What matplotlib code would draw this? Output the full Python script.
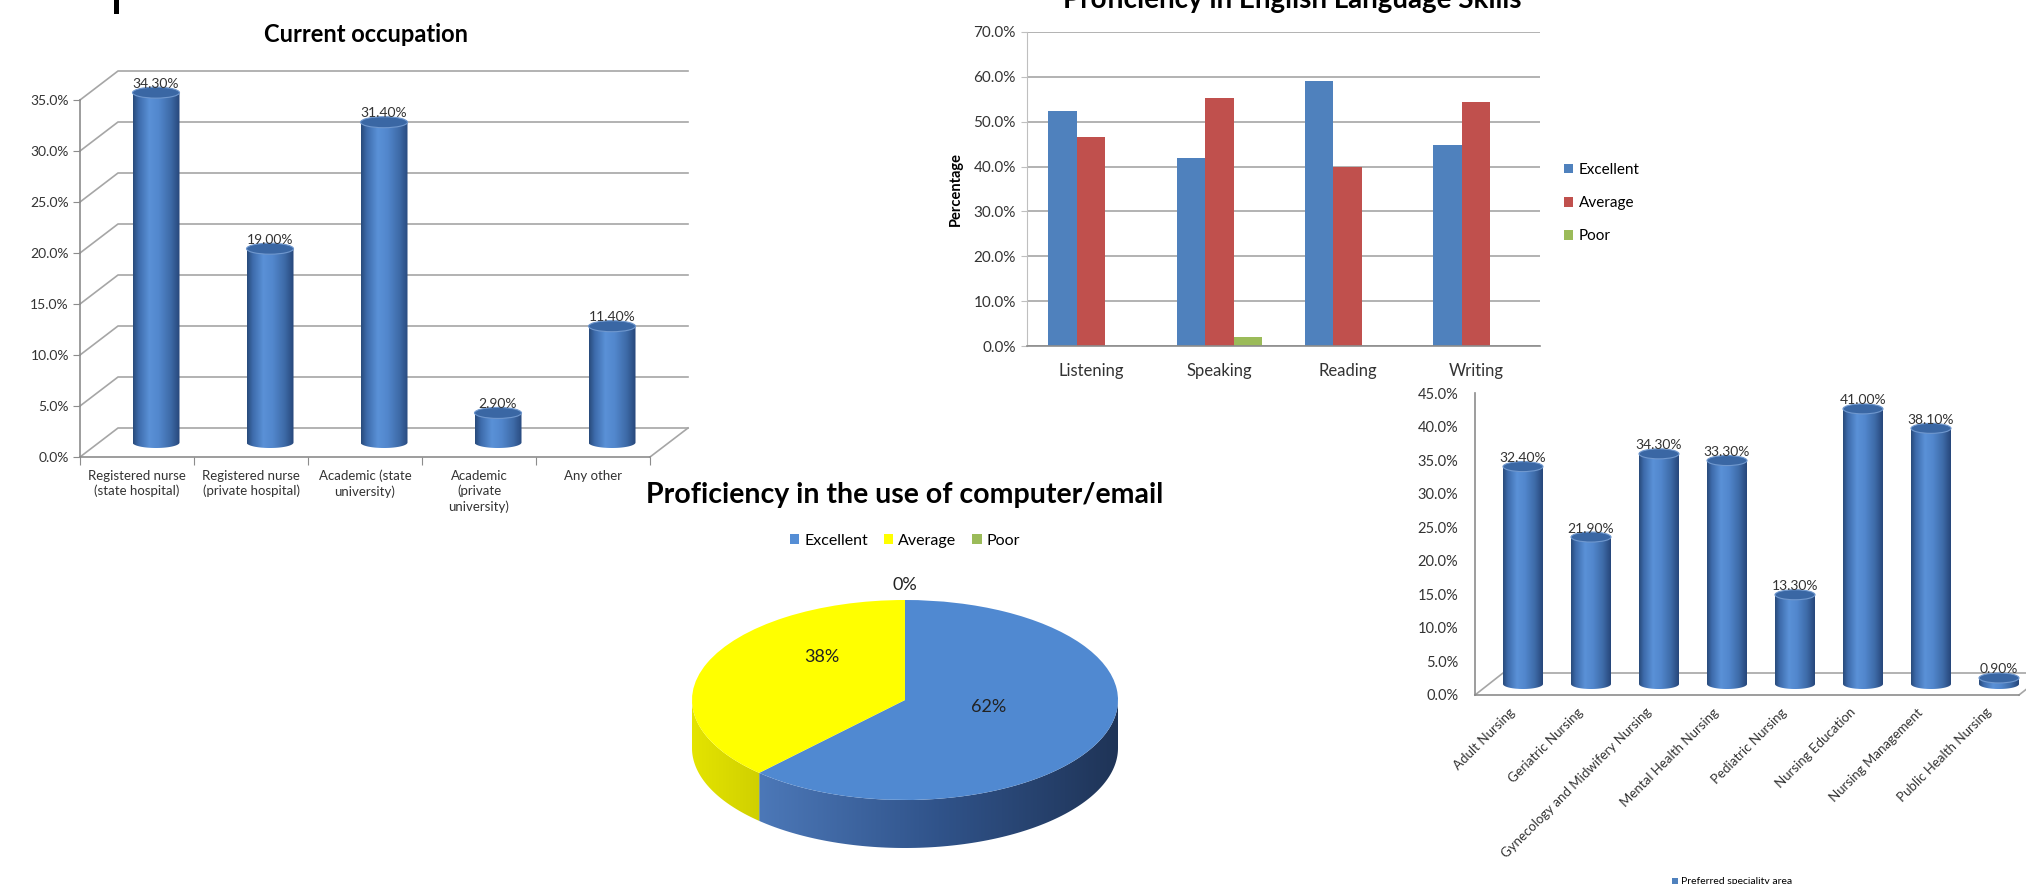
import numpy as np
import matplotlib
matplotlib.use('Agg')
import matplotlib.pyplot as plt
from matplotlib.patches import Ellipse, Polygon, Rectangle, Patch
from matplotlib.colors import LinearSegmentedColormap
from matplotlib.ticker import FuncFormatter

plt.rcParams['font.family'] = ['Lato', 'DejaVu Sans']

# ---------------- data ----------------
occ_categories = ['Registered nurse\n(state hospital)', 'Registered nurse\n(private hospital)',
                  'Academic (state\nuniversity)', 'Academic\n(private\nuniversity)', 'Any other']
occ_values = [34.3, 19.0, 31.4, 2.9, 11.4]
occ_ticks = [0, 5, 10, 15, 20, 25, 30, 35]

eng_skills = ['Listening', 'Speaking', 'Reading', 'Writing']
eng_excellent = [52.4, 41.9, 59.0, 44.8]
eng_average = [46.7, 55.2, 40.0, 54.3]
eng_poor = [0.0, 1.9, 0.0, 0.0]
eng_ticks = [0, 10, 20, 30, 40, 50, 60, 70]

comp_labels = ['Excellent', 'Average', 'Poor']
comp_values = [62, 38, 0]

spec_categories = ['Adult Nursing', 'Geriatric Nursing', 'Gynecology and Midwifery Nursing',
                   'Mental Health Nursing', 'Pediatric Nursing', 'Nursing Education',
                   'Nursing Management', 'Public Health Nursing']
spec_values = [32.4, 21.9, 34.3, 33.3, 13.3, 41.0, 38.1, 0.9]
spec_ticks = [0, 5, 10, 15, 20, 25, 30, 35, 40, 45]

# ---------------- helpers ----------------
W, H = 2026, 884
fig = plt.figure(figsize=(W / 100, H / 100), dpi=100)
fig.patch.set_facecolor('white')

TXT = '#333333'
GRID = '#A6A6A6'
AXC = '#8C8C8C'


def fx(px):
    return px / W


def fy(py):
    return 1 - py / H


def px_axes(left, top, right, bottom):
    ax = fig.add_axes([fx(left), fy(bottom), (right - left) / W, (bottom - top) / H])
    ax.set_facecolor('none')
    return ax


cyl_cmap = LinearSegmentedColormap.from_list('cyl', [
    (0.0, '#284A7A'), (0.12, '#3D6BAB'), (0.35, '#5A91D7'), (0.55, '#5287CD'),
    (0.8, '#3E6BA8'), (1.0, '#26467A')])
GRAD = np.linspace(0, 1, 256).reshape(1, -1)


def draw_cylinders(ax, xs, values, base, width, eh, fs):
    bars = ax.bar(xs, values, width, bottom=base, color='none', edgecolor='none', zorder=3)
    for bar, v in zip(bars, values):
        x0, w = bar.get_x(), bar.get_width()
        y0 = bar.get_y()
        y1 = y0 + bar.get_height()
        xc, a, b = x0 + w / 2, w / 2, eh / 2
        t = np.linspace(np.pi, 2 * np.pi, 80)
        arc = np.column_stack([xc + a * np.cos(t), y0 + b * np.sin(t)])
        verts = np.vstack([[x0, y1], arc, [x0 + w, y1]])
        poly = Polygon(verts, closed=True, fc='none', ec='none', zorder=3)
        ax.add_patch(poly)
        im = ax.imshow(GRAD, cmap=cyl_cmap, aspect='auto', extent=[x0, x0 + w, y0 - b, y1],
                       origin='lower', interpolation='bilinear', zorder=3)
        im.set_clip_path(poly)
        ax.add_patch(Ellipse((xc, y1), w, eh, fc='#3A67A4', ec='#7098CE', lw=0.8, zorder=4))
        ax.text(xc, y1 + b * 0.9, f'{v:.2f}%', ha='center', va='baseline', fontsize=fs,
                color=TXT, zorder=5)


pct1 = FuncFormatter(lambda v, p: f'{v:.1f}%')

# ---------------- top-left mark ----------------
fig.add_artist(Rectangle((fx(114), fy(14)), 5 / W, 14 / H, transform=fig.transFigure,
                         fc='black', ec='none'))

# ---------------- Chart 1: Current occupation ----------------
xpu1, ypu1 = 114.0, 10.2
ax1 = px_axes(80, 457 - ypu1 * 40, 80 + xpu1 * 5.6, 457)
dx1, dy1 = 38 / xpu1, 29 / ypu1
n1 = len(occ_values)
for lv in occ_ticks:
    ax1.plot([0, dx1, n1 + dx1], [lv, lv + dy1, lv + dy1], color=GRID, lw=1.2, zorder=1,
             clip_on=False)
ax1.plot([n1, n1 + dx1], [0, dy1], color=GRID, lw=1.2, zorder=1, clip_on=False)
draw_cylinders(ax1, np.arange(n1) + 0.5 + dx1 / 2, occ_values, dy1 / 2, 47 / xpu1, 11 / ypu1, 10)
ax1.set_xlim(0, 5.6)
ax1.set_ylim(0, 40)
for s in ['top', 'right']:
    ax1.spines[s].set_visible(False)
for s in ['left', 'bottom']:
    ax1.spines[s].set_color(AXC)
    ax1.spines[s].set_linewidth(1.2)
ax1.spines['left'].set_bounds(0, max(occ_ticks))
ax1.spines['bottom'].set_bounds(0, n1)
ax1.set_yticks(occ_ticks)
ax1.yaxis.set_major_formatter(pct1)
ax1.set_xticks(np.arange(n1 + 1))
ax1.set_xticklabels([])
ax1.set_xticks(np.arange(n1) + 0.5, minor=True)
ax1.set_xticklabels(occ_categories, minor=True, linespacing=1.3)
ax1.tick_params(axis='x', which='minor', length=0, pad=9, labelsize=9.5, labelcolor=TXT)
ax1.tick_params(axis='x', which='major', length=6, color=AXC)
ax1.tick_params(axis='y', length=5, color=AXC, labelsize=10, labelcolor=TXT, pad=3)
fig.text(fx(366), fy(34), 'Current occupation', ha='center', va='center', fontsize=17,
         fontweight='bold', color='black')

# ---------------- Chart 2: English skills ----------------
ax2 = px_axes(1027, 32, 1540, 346)
x = np.arange(len(eng_skills))
bw = 0.222
ax2.bar(x - bw, eng_excellent, bw, color='#4F81BD', label='Excellent', zorder=2)
ax2.bar(x, eng_average, bw, color='#C0504D', label='Average', zorder=2)
ax2.bar(x + bw, eng_poor, bw, color='#9BBB59', label='Poor', zorder=2)
ax2.set_xlim(-0.5, len(eng_skills) - 0.5)
ax2.set_ylim(0, 70)
ax2.set_yticks(eng_ticks)
ax2.yaxis.set_major_formatter(pct1)
ax2.yaxis.grid(True, color=GRID, lw=1.2)
ax2.set_axisbelow(True)
ax2.set_xticks(x)
ax2.set_xticklabels(eng_skills)
for s in ['top', 'right']:
    ax2.spines[s].set_visible(False)
ax2.spines['left'].set_color('#BFBFBF')
ax2.spines['bottom'].set_color(AXC)
ax2.spines['bottom'].set_linewidth(1.2)
ax2.tick_params(axis='x', length=0, pad=12, labelsize=12, labelcolor=TXT)
ax2.tick_params(axis='y', length=4, color='#BFBFBF', labelsize=11, labelcolor=TXT, pad=4)
ax2.set_ylabel('Percentage', fontsize=10.5, fontweight='bold', color='black', labelpad=8)
ax2.legend(loc='upper left', bbox_to_anchor=(fx(1564), fy(163)), bbox_transform=fig.transFigure,
           frameon=False, fontsize=11, handlelength=0.6, handleheight=0.6,
           handletextpad=0.35, labelspacing=1.25, borderpad=0, borderaxespad=0)
fig.text(fx(1292), fy(8), 'Proficiency in English Language Skills', ha='center', va='baseline',
         fontsize=20, fontweight='bold', color='black')

# white panel of the lower-right chart, overlapping the English chart's last label
fig.add_artist(Rectangle((fx(1420), 0), 1 - fx(1420), fy(380), transform=fig.transFigure,
                         fc='white', ec='none', zorder=1))

# ---------------- Chart 3: 3D pie ----------------
cxp, cyp, rxp, ryp = 905, 700, 213, 100
ax3 = px_axes(650, 560, 1160, 884)
thick = 48 / ryp
pie_colors = ['#5089D1', '#FFFF00', '#9BBB59']
side_cmaps = [LinearSegmentedColormap.from_list('bs', ['#4C78B8', '#30538A', '#1F3457']),
              LinearSegmentedColormap.from_list('ys', ['#E4E400', '#D0D000']),
              LinearSegmentedColormap.from_list('gs', ['#7A9A45', '#5E7A33'])]
fr = np.array(comp_values, dtype=float) / sum(comp_values)
bnd = 90 - 360 * np.concatenate([[0], np.cumsum(fr)])
for i in range(len(comp_values)):
    hi, lo = bnd[i], bnd[i + 1]
    for shift in (0, 360):
        a0, a1 = max(lo + shift, -180), min(hi + shift, 0)
        if a1 - a0 <= 0.01:
            continue
        th = np.radians(np.linspace(a0, a1, 120))
        top = np.column_stack([np.cos(th), np.sin(th)])
        bot = np.column_stack([np.cos(th[::-1]), np.sin(th[::-1]) - thick])
        poly = Polygon(np.vstack([top, bot]), closed=True, fc='none', ec='none', zorder=1)
        ax3.add_patch(poly)
        im = ax3.imshow(GRAD, cmap=side_cmaps[i], aspect='auto',
                        extent=[np.cos(th).min(), np.cos(th).max(), -1 - thick, 0.01],
                        origin='lower', interpolation='bilinear', zorder=1)
        im.set_clip_path(poly)
ax3.pie(comp_values, colors=pie_colors, startangle=90, counterclock=False, radius=1,
        center=(0, 0), wedgeprops=dict(linewidth=0, zorder=3))
for i, v in enumerate(comp_values):
    mid = np.radians((bnd[i] + bnd[i + 1]) / 2)
    if v > 0:
        lx, ly = 0.42 * np.cos(mid), 0.68 * np.sin(mid) + 0.18
    else:
        lx, ly = 1.15 * np.cos(mid), 1.15 * np.sin(mid)
    ax3.text(lx, ly, f'{v}%', ha='center', va='center', fontsize=13, color='#222222', zorder=5)
ax3.set_aspect('auto')
ax3.set_xlim((650 - cxp) / rxp, (1160 - cxp) / rxp)
ax3.set_ylim((cyp - 884) / ryp, (cyp - 560) / ryp)
ax3.axis('off')
fig.text(fx(905), fy(495), 'Proficiency in the use of computer/email', ha='center', va='center',
         fontsize=20.5, fontweight='bold', color='black')
fig.legend(handles=[Patch(fc=c, ec='none') for c in ['#558ED5', '#FFFF00', '#9BBB59']],
           labels=comp_labels, loc='center', bbox_to_anchor=(fx(905), fy(541)),
           bbox_transform=fig.transFigure, ncol=3, frameon=False, fontsize=11.5,
           handlelength=0.6, handleheight=0.6, handletextpad=0.3, columnspacing=1.0,
           borderpad=0, borderaxespad=0)

# ---------------- Chart 4: Preferred speciality area ----------------
xpu4, ypu4 = 68.0, 6.71
ax4 = px_axes(1475, 695 - ypu4 * 48, W, 695)
ax4.set_zorder(2)
dx4, dy4 = 28 / xpu4, 22 / ypu4
n4 = len(spec_values)
ax4.plot([0, dx4, n4 + dx4], [0, dy4, dy4], color=GRID, lw=1.2, zorder=1, clip_on=False)
ax4.plot([n4, n4 + dx4], [0, dy4], color=GRID, lw=1.2, zorder=1, clip_on=False)
draw_cylinders(ax4, np.arange(n4) + 0.5 + dx4 / 2, spec_values, dy4 / 2, 40 / xpu4, 10 / ypu4, 10)
ax4.set_xlim(0, (W - 1475) / xpu4)
ax4.set_ylim(0, 48)
for s in ['top', 'right']:
    ax4.spines[s].set_visible(False)
for s in ['left', 'bottom']:
    ax4.spines[s].set_color(AXC)
    ax4.spines[s].set_linewidth(1.2)
ax4.spines['left'].set_bounds(0, max(spec_ticks))
ax4.spines['bottom'].set_bounds(0, n4)
ax4.set_yticks(spec_ticks)
ax4.yaxis.set_major_formatter(pct1)
ax4.set_xticks(np.arange(n4) + 0.5)
ax4.set_xticklabels(spec_categories, rotation=45, ha='right', rotation_mode='anchor')
ax4.tick_params(axis='x', length=0, pad=8, labelsize=9.5, labelcolor=TXT)
ax4.tick_params(axis='y', length=0, labelsize=10.5, labelcolor=TXT, pad=12)
fig.legend(handles=[Patch(fc='#4F81BD', ec='none')], labels=['Preferred speciality area'],
           loc='center left', bbox_to_anchor=(fx(1672), fy(882)), bbox_transform=fig.transFigure,
           frameon=False, fontsize=7.5, handlelength=0.6, handleheight=0.6, handletextpad=0.3,
           borderpad=0, borderaxespad=0)

fig.savefig('out.png', dpi=100, facecolor='white')
